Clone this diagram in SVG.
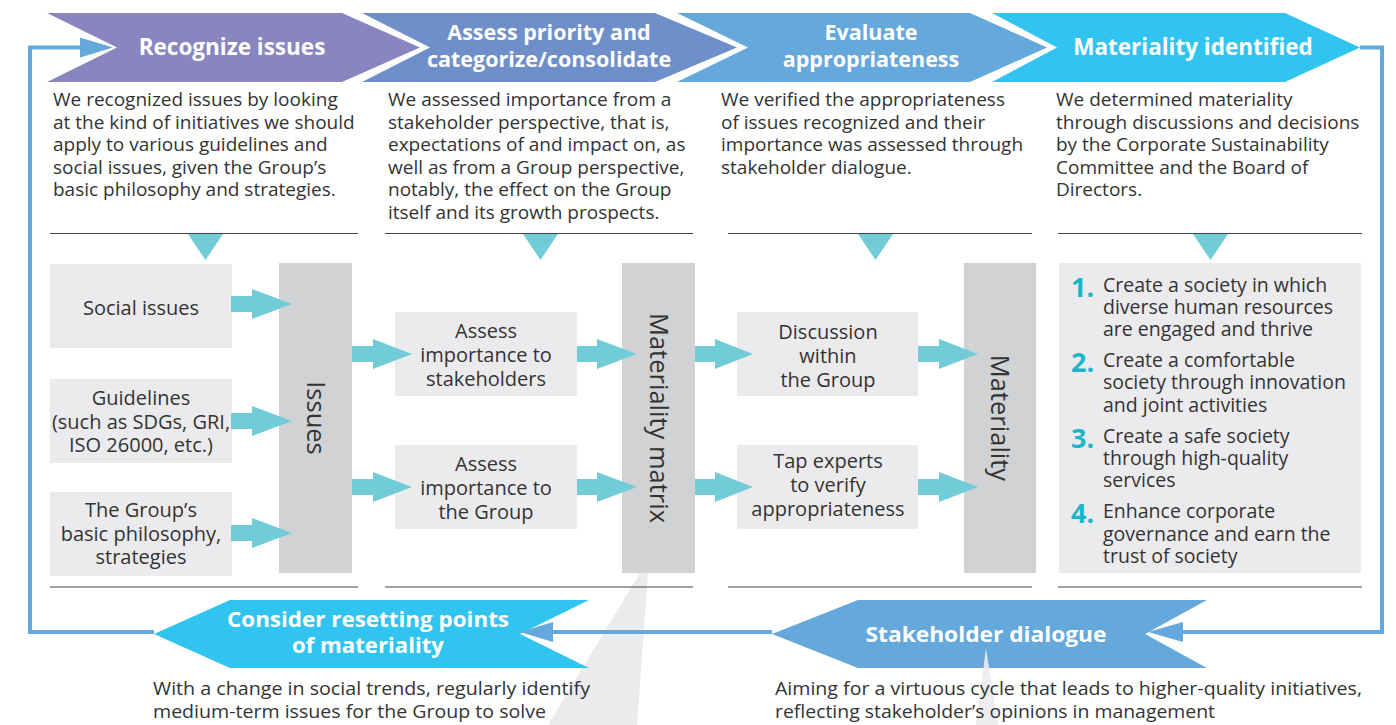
<svg xmlns="http://www.w3.org/2000/svg" width="1396" height="725" viewBox="0 0 1396 725">
<defs>
<style>
text{font-family:"Open Sans","Noto Sans","Liberation Sans",sans-serif;fill:#333;}
.ttl{font-size:22.5px;font-weight:bold;fill:#fff;text-anchor:middle;}
.ttl2{font-size:21.5px;font-weight:bold;fill:#fff;text-anchor:middle;}
.btl{font-size:21px;font-weight:bold;fill:#fff;text-anchor:middle;}
.desc{font-size:19px;}
.bx{font-size:20px;text-anchor:middle;}
.vt{font-size:25.5px;text-anchor:middle;}
.li{font-size:19.5px;}
.num{font-size:27px;font-weight:bold;fill:#1cb6cb;}
.foot{font-size:19px;}
.box{fill:#ebebed;}
.bar{fill:#d1d2d4;}
.ca{fill:#72ccd8;}
.rule{stroke:#444;stroke-width:1.2;}
.loop{fill:none;stroke:#64a8dc;stroke-width:4;}
.head{fill:#64a8dc;}
.wedge{fill:#ebebed;}
</style>
</defs>

<!-- background wedge -->
<polygon class="wedge" points="640,573 648,573 637,725 548,725"/>

<!-- top banners -->
<g id="banner-recognize">
<polygon points="47,13 342,13 420,47.5 342,82 47,82 117,47.5" fill="#8985c1"/>
<text class="ttl" x="232" y="55">Recognize issues</text>
</g>
<g id="banner-assess">
<polygon points="362,13 655,13 737,47.5 655,82 362,82 430,47.5" fill="#6f8fca"/>
<text class="ttl2" x="549" y="39.5">Assess priority and</text>
<text class="ttl2" x="549" y="66.5">categorize/consolidate</text>
</g>
<g id="banner-evaluate">
<polygon points="677,13 970,13 1047,47.5 970,82 677,82 748,47.5" fill="#64a8dc"/>
<text class="ttl2" x="871" y="39.5">Evaluate</text>
<text class="ttl2" x="871" y="66.5">appropriateness</text>
</g>
<g id="banner-identified">
<polygon points="992,13 1285,13 1360,47.5 1285,82 992,82 1057,47.5" fill="#32c4f0"/>
<text class="ttl" x="1193" y="55">Materiality identified</text>
</g>

<!-- descriptions -->
<g id="desc1">
<text class="desc" x="53" y="106">We recognized issues by looking</text>
<text class="desc" x="53" y="128.6">at the kind of initiatives we should</text>
<text class="desc" x="53" y="151.2">apply to various guidelines and</text>
<text class="desc" x="53" y="173.8">social issues, given the Group’s</text>
<text class="desc" x="53" y="196.4">basic philosophy and strategies.</text>
</g>
<g id="desc2">
<text class="desc" x="388" y="106">We assessed importance from a</text>
<text class="desc" x="388" y="128.6">stakeholder perspective, that is,</text>
<text class="desc" x="388" y="151.2">expectations of and impact on, as</text>
<text class="desc" x="388" y="173.8">well as from a Group perspective,</text>
<text class="desc" x="388" y="196.4">notably, the effect on the Group</text>
<text class="desc" x="388" y="219">itself and its growth prospects.</text>
</g>
<g id="desc3">
<text class="desc" x="721" y="106">We verified the appropriateness</text>
<text class="desc" x="721" y="128.6">of issues recognized and their</text>
<text class="desc" x="721" y="151.2">importance was assessed through</text>
<text class="desc" x="721" y="173.8">stakeholder dialogue.</text>
</g>
<g id="desc4">
<text class="desc" x="1056" y="106">We determined materiality</text>
<text class="desc" x="1056" y="128.6">through discussions and decisions</text>
<text class="desc" x="1056" y="151.2">by the Corporate Sustainability</text>
<text class="desc" x="1056" y="173.8">Committee and the Board of</text>
<text class="desc" x="1056" y="196.4">Directors.</text>
</g>

<!-- rules and pointer triangles -->
<g id="rules">
<line class="rule" x1="50" y1="233.5" x2="358" y2="233.5"/>
<line class="rule" x1="385" y1="233.5" x2="693" y2="233.5"/>
<line class="rule" x1="728" y1="233.5" x2="1032" y2="233.5"/>
<line class="rule" x1="1058" y1="233.5" x2="1362" y2="233.5"/>
<line class="rule" x1="50" y1="587" x2="358" y2="587"/>
<line class="rule" x1="385" y1="587" x2="693" y2="587"/>
<line class="rule" x1="728" y1="587" x2="1032" y2="587"/>
<line class="rule" x1="1058" y1="587" x2="1362" y2="587"/>
<polygon class="ca" points="188,234 223,234 205.5,260"/>
<polygon class="ca" points="523,234 558,234 540.5,260"/>
<polygon class="ca" points="858,234 893,234 875.5,260"/>
<polygon class="ca" points="1193,234 1228,234 1210.5,260"/>
</g>

<!-- nodes -->
<g id="social-issues">
<rect class="box" x="50" y="264" width="182" height="84"/>
<text class="bx" x="141" y="315">Social issues</text>
</g>
<g id="guidelines">
<rect class="box" x="50" y="379" width="182" height="84"/>
<text class="bx" x="141" y="405">Guidelines</text>
<text class="bx" x="141" y="428.5">(such as SDGs, GRI,</text>
<text class="bx" x="141" y="452">ISO 26000, etc.)</text>
</g>
<g id="group-philosophy">
<rect class="box" x="50" y="492" width="182" height="84"/>
<text class="bx" x="141" y="517">The Group’s</text>
<text class="bx" x="141" y="541">basic philosophy,</text>
<text class="bx" x="141" y="564">strategies</text>
</g>
<g id="issues">
<rect class="bar" x="279" y="263" width="73" height="310"/>
<text class="vt" transform="translate(316,418) rotate(90)" x="0" y="9">Issues</text>
</g>
<g id="assess-stakeholders">
<rect class="box" x="395" y="312" width="182" height="84"/>
<text class="bx" x="486" y="338">Assess</text>
<text class="bx" x="486" y="362">importance to</text>
<text class="bx" x="486" y="386">stakeholders</text>
</g>
<g id="assess-group">
<rect class="box" x="395" y="445" width="182" height="84"/>
<text class="bx" x="486" y="471">Assess</text>
<text class="bx" x="486" y="495">importance to</text>
<text class="bx" x="486" y="519">the Group</text>
</g>
<g id="materiality-matrix">
<rect class="bar" x="622" y="263" width="73" height="310"/>
<text class="vt" transform="translate(658.5,418) rotate(90)" x="0" y="9">Materiality matrix</text>
</g>
<g id="discussion">
<rect class="box" x="737" y="312" width="181" height="84"/>
<text class="bx" x="828" y="339">Discussion</text>
<text class="bx" x="828" y="363">within</text>
<text class="bx" x="828" y="387">the Group</text>
</g>
<g id="tap-experts">
<rect class="box" x="737" y="445" width="181" height="84"/>
<text class="bx" x="828" y="468">Tap experts</text>
<text class="bx" x="828" y="492">to verify</text>
<text class="bx" x="828" y="516">appropriateness</text>
</g>
<g id="materiality">
<rect class="bar" x="964" y="263" width="72" height="310"/>
<text class="vt" transform="translate(1000,418) rotate(90)" x="0" y="9">Materiality</text>
</g>
<g id="materiality-list">
<rect class="box" x="1059" y="263" width="302" height="310"/>
<text class="num" x="1071" y="297">1.</text>
<text class="li" x="1103" y="292">Create a society in which</text>
<text class="li" x="1103" y="314">diverse human resources</text>
<text class="li" x="1103" y="336">are engaged and thrive</text>
<text class="num" x="1071" y="372">2.</text>
<text class="li" x="1103" y="367">Create a comfortable</text>
<text class="li" x="1103" y="389">society through innovation</text>
<text class="li" x="1103" y="412">and joint activities</text>
<text class="num" x="1071" y="448">3.</text>
<text class="li" x="1103" y="443">Create a safe society</text>
<text class="li" x="1103" y="465">through high-quality</text>
<text class="li" x="1103" y="487">services</text>
<text class="num" x="1071" y="523">4.</text>
<text class="li" x="1103" y="518">Enhance corporate</text>
<text class="li" x="1103" y="541">governance and earn the</text>
<text class="li" x="1103" y="563">trust of society</text>
</g>

<!-- bottom banners -->
<g id="banner-reset">
<polygon points="154,634 230,600 589,600 520,634 589,668 230,668" fill="#32c4f0"/>
<text class="btl" x="368" y="627" textLength="282" lengthAdjust="spacingAndGlyphs">Consider resetting points</text>
<text class="btl" x="368" y="653" textLength="152" lengthAdjust="spacingAndGlyphs">of materiality</text>
</g>
<g id="banner-dialogue">
<polygon points="772,634 858,600 1207,600 1145,634 1207,668 858,668" fill="#64a8dc"/>
<text class="btl" x="986" y="642" textLength="241" lengthAdjust="spacingAndGlyphs">Stakeholder dialogue</text>
</g>
<polygon class="wedge" points="986,648 976,725 998,725" fill-opacity="0.9"/>

<!-- connectors -->
<g id="connectors">
<polyline class="loop" points="1360,47.5 1382,47.5 1382,632 1183,632"/>
<polygon class="head" points="1183,622 1148,632 1183,642"/>
<line class="loop" x1="772" y1="632" x2="553" y2="632"/>
<polygon class="head" points="553,622 520,632 553,642"/>
<polyline class="loop" points="154,632 30,632 30,47.5 80,47.5"/>
<polygon class="head" points="80,37.5 113,47.5 80,57.5"/>
<path class="ca" d="M231,296 H252 V289 L292,304 L252,319 V312 H231 Z"/>
<path class="ca" d="M231,413 H252 V406 L292,421 L252,436 V429 H231 Z"/>
<path class="ca" d="M231,525 H252 V518 L292,533 L252,548 V541 H231 Z"/>
<path class="ca" d="M352,346 H373 V339 L412,354 L373,369 V362 H352 Z"/>
<path class="ca" d="M352,479 H373 V472 L412,487 L373,502 V495 H352 Z"/>
<path class="ca" d="M577,346 H597 V339 L637,354 L597,369 V362 H577 Z"/>
<path class="ca" d="M577,479 H597 V472 L637,487 L597,502 V495 H577 Z"/>
<path class="ca" d="M695,346 H715 V339 L753,354 L715,369 V362 H695 Z"/>
<path class="ca" d="M695,479 H715 V472 L753,487 L715,502 V495 H695 Z"/>
<path class="ca" d="M918,346 H939 V339 L978,354 L939,369 V362 H918 Z"/>
<path class="ca" d="M918,479 H939 V472 L978,487 L939,502 V495 H918 Z"/>
</g>

<!-- footnotes -->
<g id="foot-reset">
<text class="foot" x="153" y="695" textLength="437" lengthAdjust="spacingAndGlyphs">With a change in social trends, regularly identify</text>
<text class="foot" x="153" y="718" textLength="393" lengthAdjust="spacingAndGlyphs">medium-term issues for the Group to solve</text>
</g>
<g id="foot-dialogue">
<text class="foot" x="775" y="695" textLength="587" lengthAdjust="spacingAndGlyphs">Aiming for a virtuous cycle that leads to higher-quality initiatives,</text>
<text class="foot" x="775" y="718" textLength="440" lengthAdjust="spacingAndGlyphs">reflecting stakeholder’s opinions in management</text>
</g>
</svg>
